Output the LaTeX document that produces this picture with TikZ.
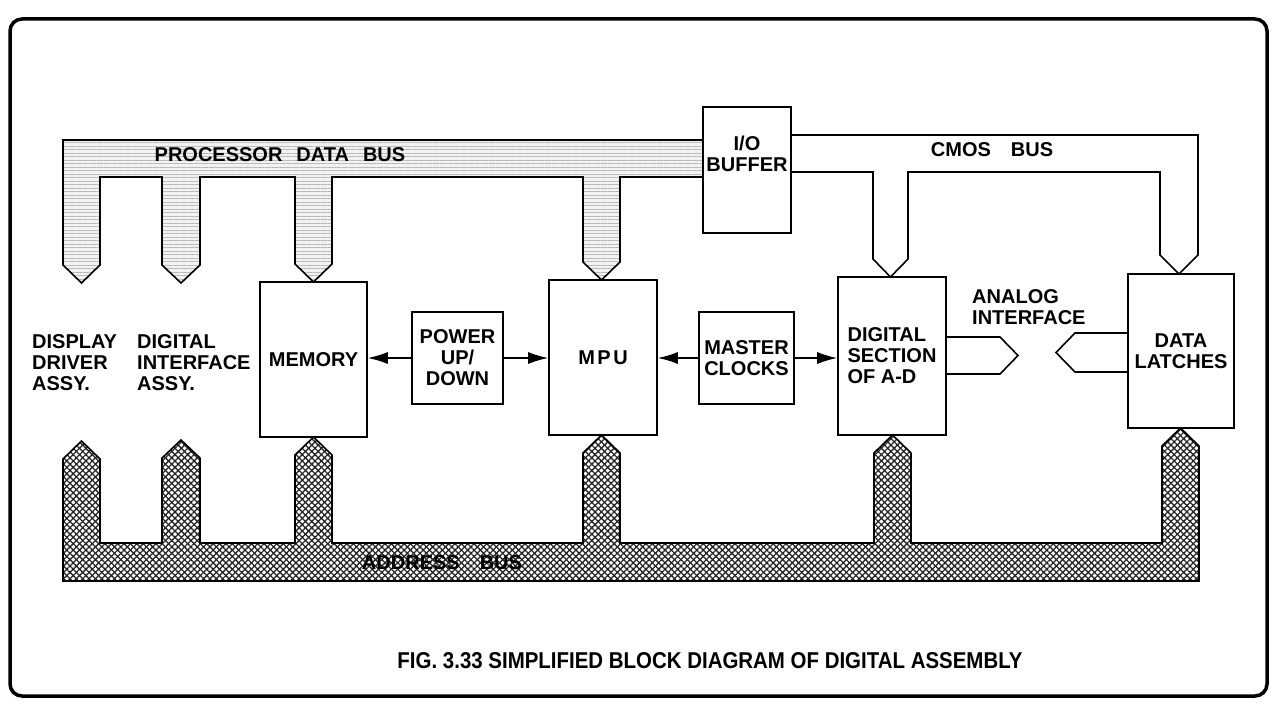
\documentclass[tikz,border=0pt]{standalone}
\usepackage{fontspec}
\setmainfont{Liberation Sans}
\usetikzlibrary{arrows.meta,patterns.meta}
\newcommand\blkfont{\bfseries\fontsize{20}{21}\selectfont}
\begin{document}
\begin{tikzpicture}[x=1pt,y=-1pt,
  blk/.style={draw,line width=1.6pt,inner sep=0pt,font=\blkfont,align=center},
  lbl/.style={font=\blkfont,align=left,inner sep=0pt},
  arr/.style={line width=1.4pt,-{Latex[length=20pt,width=12pt]}},
  bus/.style={line width=1.6pt,line join=miter},
  pdbfill/.style={preaction={fill=gray!10},
     preaction={pattern={Lines[angle=0,distance=3.5pt,line width=0.7pt]},pattern color=gray!55}},
  abfill/.style={preaction={fill=white},
     preaction={pattern={Lines[angle=45,distance=4.5pt,line width=1.3pt]},pattern color=black!85},
     preaction={pattern={Lines[angle=-45,distance=4.5pt,line width=1.3pt]},pattern color=black!85}},
  ]
\useasboundingbox (0,0) rectangle (1273,706);
% frame
\draw[line width=3.5pt,rounded corners=12pt] (10,19) rectangle (1267,696);

% processor data bus
\draw[bus,pdbfill] (703,140) -- (63,140) -- (63,265) -- (81.5,283) -- (100,265) -- (100,177)
  -- (162,177) -- (162,265) -- (181,283) -- (200,265) -- (200,177)
  -- (295,177) -- (295,264) -- (313.5,282) -- (332,264) -- (332,177)
  -- (583,177) -- (583,262) -- (601.5,280) -- (620,262) -- (620,177) -- (703,177) -- cycle;

% CMOS bus
\draw[bus] (791,135) -- (1198,135) -- (1198,255) -- (1179,274) -- (1160,255) -- (1160,172)
  -- (908,172) -- (908,259) -- (890.5,277) -- (873,259) -- (873,172) -- (791,172);

% address bus
\draw[bus,abfill] (63,581) -- (63,459) -- (81.5,441) -- (100,459) -- (100,543)
  -- (162,543) -- (162,458) -- (181,440) -- (200,458) -- (200,543)
  -- (295,543) -- (295,455) -- (313.5,437) -- (332,455) -- (332,543)
  -- (583,543) -- (583,453) -- (601.5,435) -- (620,453) -- (620,543)
  -- (874,543) -- (874,453) -- (892.5,435) -- (911,453) -- (911,543)
  -- (1162,543) -- (1162,446) -- (1180.5,428) -- (1199,446) -- (1199,581) -- cycle;

% blocks
\node[blk,fill=white,minimum width=88pt,minimum height=126pt] (io) at (747,170) {};
\node[lbl,align=center] (iotxt) at (747,154) {I/O\\BUFFER};
\node[blk,minimum width=107pt,minimum height=155pt] (mem) at (313.5,359.5) {MEMORY};
\node[blk,minimum width=91pt,minimum height=92pt] (pwr) at (457.5,358) {POWER\\UP/\\DOWN};
\node[blk,minimum width=108pt,minimum height=155pt] (mpu) at (603,357.5) {M\kern2.5pt P\kern2.5pt U};
\node[blk,minimum width=95pt,minimum height=92pt] (clk) at (746.5,358) {MASTER\\CLOCKS};
\node[blk,align=left,minimum width=108pt,minimum height=158pt] (ad) at (892,356) {DIGITAL\\SECTION\\OF A-D};
\node[blk,minimum width=106pt,minimum height=154pt] (lat) at (1181,351) {DATA\\LATCHES};

% labels
\node[lbl,anchor=west] (disp) at (32,363) {DISPLAY\\DRIVER\\ASSY.};
\node[lbl,anchor=west] (dint) at (137,363) {DIGITAL\\INTERFACE\\ASSY.};
\node[lbl,anchor=west] (ana) at (972,307) {ANALOG\\INTERFACE};
\node[lbl] (pdb) at (280,155) {PROCESSOR\hspace{0.7em}DATA\hspace{0.7em}BUS};
\node[lbl] (cmos) at (992,150) {CMOS\hspace{1em}BUS};
\node[lbl] (abus) at (442,563) {ADDRESS\hspace{1em}BUS};
\node[inner sep=0pt] (cap) at (710,661) {\resizebox{625pt}{16pt}{\bfseries FIG. 3.33 SIMPLIFIED BLOCK DIAGRAM OF DIGITAL ASSEMBLY}};

% arrows
\draw[arr] (pwr.west) -- (pwr.west -| mem.east);
\draw[arr] (pwr.east) -- (pwr.east -| mpu.west);
\draw[arr] (clk.west) -- (clk.west -| mpu.east);
\draw[arr] (clk.east) -- (clk.east -| ad.west);

% analog interface
\draw[bus] (946,337) -- (1000,337) -- (1018,355.5) -- (1000,374) -- (946,374);
\draw[bus] (1128,333) -- (1075,333) -- (1056,352.5) -- (1075,372) -- (1128,372);
\end{tikzpicture}
\end{document}
